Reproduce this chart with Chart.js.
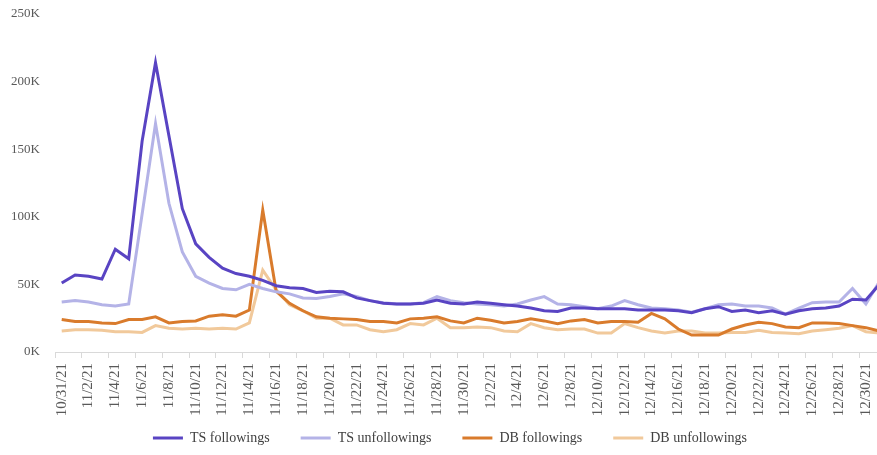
<!DOCTYPE html>
<html>
<head>
<meta charset="utf-8">
<script src="https://cdn.jsdelivr.net/npm/chart.js@4"></script>
<style>
  html, body { margin: 0; padding: 0; background: #fff; overflow: hidden; }
  #wrap { position: absolute; left: 0; top: 0; width: 908px; height: 455px; }
</style>
</head>
<body>
<div id="wrap"><canvas id="trendChart" width="908" height="455"></canvas></div>
<script>
// Daily counts, in thousands, 10/31/21 .. 12/31/21
const dateLabels = [
  '10/31/21', '11/1/21', '11/2/21', '11/3/21', '11/4/21', '11/5/21', '11/6/21', '11/7/21',
  '11/8/21', '11/9/21', '11/10/21', '11/11/21', '11/12/21', '11/13/21', '11/14/21', '11/15/21',
  '11/16/21', '11/17/21', '11/18/21', '11/19/21', '11/20/21', '11/21/21', '11/22/21', '11/23/21',
  '11/24/21', '11/25/21', '11/26/21', '11/27/21', '11/28/21', '11/29/21', '11/30/21', '12/1/21',
  '12/2/21', '12/3/21', '12/4/21', '12/5/21', '12/6/21', '12/7/21', '12/8/21', '12/9/21',
  '12/10/21', '12/11/21', '12/12/21', '12/13/21', '12/14/21', '12/15/21', '12/16/21', '12/17/21',
  '12/18/21', '12/19/21', '12/20/21', '12/21/21', '12/22/21', '12/23/21', '12/24/21', '12/25/21',
  '12/26/21', '12/27/21', '12/28/21', '12/29/21', '12/30/21', '12/31/21'
];

const tsFollowings = [
  51, 57, 56, 54, 76, 69, 156, 214, 160, 106,
  80, 70, 62, 58, 56, 53, 49, 47.5, 47, 44,
  45, 44.5, 40, 38, 36, 35.5, 35.5, 36, 38.5, 36,
  35.5, 37, 36, 35, 34, 32.5, 30.5, 30, 32.5, 32.5,
  32, 32, 32, 31, 31, 31, 30.5, 29, 32, 33.5,
  30, 31, 29, 30.5, 28, 30.5, 32, 32.5, 34, 39,
  38.5, 50
];

const tsUnfollowings = [
  37, 38, 37, 35, 34, 35.5, 102, 169, 110, 74,
  56, 51, 47, 46, 50, 47, 44.5, 43, 40, 39.5,
  41, 43, 41, 38, 36.5, 35.5, 35.5, 36.5, 41, 38,
  36.5, 35.5, 35, 34, 35.5, 38.5, 41, 35.5, 35, 33.5,
  32, 34, 38, 35, 32.5, 32, 31, 29.5, 32, 35,
  35.5, 34, 34, 32.5, 28, 32.5, 36.5, 37, 37, 47,
  35.5, 52
];

const dbFollowings = [
  24, 22.5, 22.5, 21.5, 21, 24, 24, 26, 21.5, 22.5,
  23, 26.5, 27.5, 26.5, 31, 105, 45, 36, 30.5, 26,
  25, 24.5, 24, 22.5, 22.5, 21.5, 24.5, 25, 26, 23,
  21.5, 25, 23.5, 21.5, 22.5, 24.5, 23, 21, 23, 24,
  21.5, 22.5, 22.5, 22, 28.5, 24.5, 17, 12.5, 12.5, 12.5,
  17, 20, 22, 21, 18.5, 18, 21.5, 21.5, 21, 19.5,
  18, 15.5
];

const dbUnfollowings = [
  15.5, 16.5, 16.5, 16, 15, 15, 14.5, 19.5, 17.5, 17,
  17.5, 17, 17.5, 17, 21.5, 60.5, 46, 35, 30.5, 25,
  25, 20, 20, 16.5, 15, 16.5, 21, 20, 25, 18,
  18, 18.5, 18, 15.5, 15, 21, 18, 16.5, 17, 17,
  14, 14, 21, 18, 15.5, 14, 15.5, 15.5, 14, 14,
  14.5, 14.5, 16, 14.5, 14, 13.5, 15.5, 16.5, 17.5, 19.5,
  15, 14
];

const seriesNames = ['TS followings', 'TS unfollowings', 'DB followings', 'DB unfollowings'];
const seriesColors = ['#5944c3', '#b4b3e7', '#d97b2c', '#f1c99b'];

const SERIF = 'Liberation Serif';

function makeDataset(idx, values) {
  return {
    label: seriesNames[idx],
    data: values.map(v => v * 1000),
    borderColor: seriesColors[idx],
    backgroundColor: seriesColors[idx],
    borderWidth: 3,
    pointRadius: 0,
    tension: 0,
    fill: false
  };
}

// The legend needs wide gaps between items but little space above it,
// so after layout it is moved into place by hand.
const legendNudge = {
  id: 'legendNudge',
  afterLayout(chart) {
    const lg = chart.legend;
    if (!lg) return;
    lg.left += 7;
    lg.right += 7;
    lg.top -= 15;
    lg.bottom -= 15;
  }
};

const ctx = document.getElementById('trendChart');

new Chart(ctx, {
  type: 'line',
  data: {
    labels: dateLabels,
    datasets: [
      makeDataset(0, tsFollowings),
      makeDataset(1, tsUnfollowings),
      makeDataset(2, dbFollowings),
      makeDataset(3, dbUnfollowings)
    ]
  },
  plugins: [legendNudge],
  options: {
    responsive: false,
    animation: false,
    layout: { autoPadding: false, padding: { top: 14, right: 22, bottom: -15, left: 0 } },
    plugins: {
      tooltip: { enabled: false },
      legend: {
        position: 'bottom',
        labels: {
          boxWidth: 30,
          boxHeight: 3,
          padding: 31,
          color: '#404040',
          font: { family: SERIF, size: 14 },
          // plain filled bar, no outline around the swatch
          generateLabels: chart => Chart.defaults.plugins.legend.labels.generateLabels(chart)
            .map(item => Object.assign(item, { lineWidth: 0 }))
        }
      }
    },
    scales: {
      x: {
        offset: true,
        grid: {
          offset: true,
          drawOnChartArea: false,
          tickLength: 6,
          color: c => (c.index % 2 === 0 ? '#d9d9d9' : 'rgba(0,0,0,0)')
        },
        border: { display: true, color: '#d9d9d9' },
        ticks: {
          autoSkip: false,
          minRotation: 90,
          maxRotation: 90,
          padding: 5,
          color: '#595959',
          font: { family: SERIF, size: 15 },
          callback: (v, i) => (i % 2 === 0 ? dateLabels[i] : '')
        },
        afterFit: s => { s.height = 63; }
      },
      y: {
        min: 0,
        max: 250000,
        // invisible tick marks keep the labels away from the plot
        grid: {
          display: true,
          drawOnChartArea: false,
          drawTicks: true,
          tickLength: 15,
          color: 'rgba(0,0,0,0)'
        },
        border: { display: false },
        ticks: {
          stepSize: 50000,
          padding: 0,
          color: '#595959',
          font: { family: SERIF, size: 13 },
          callback: v => (v / 1000) + 'K'
        },
        afterFit: s => { s.width = 55; }
      }
    }
  }
});
</script>
</body>
</html>
